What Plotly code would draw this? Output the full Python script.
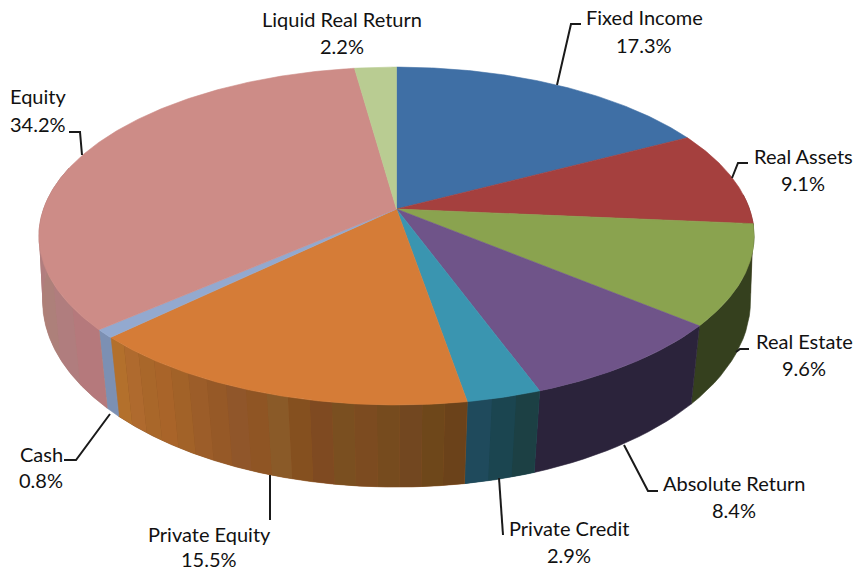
import numpy as np
import plotly.graph_objects as go

categories = ["Fixed Income", "Real Assets", "Real Estate", "Absolute Return", "Private Credit",
              "Private Equity", "Cash", "Equity", "Liquid Real Return"]
shares = [17.3, 9.1, 9.6, 8.4, 2.9, 15.5, 0.8, 34.2, 2.2]
top_colors = ["#3f6fa5", "#a5403e", "#8aa34f", "#6f5489", "#3a95b0", "#d57c37", "#93a9cf", "#cd8c87", "#b9cc92"]
# side wall colours, listed clockwise round the pie (right to left along the front)
side_bands = [
    ["#2b4a70"], ["#6e2b29"], ["#35401e"], ["#2b233b"],
    ["#1c4044", "#1b4550", "#1f4a5c"],
    ["#6b421a", "#6e471a", "#724720", "#764b1e", "#7c4b20", "#7a4f20", "#7f4a21", "#85501f", "#8a5a28",
     "#8f5524", "#90562a", "#965927", "#9c5d29", "#a26228", "#a96429", "#a9672a", "#af6a2e", "#b3702c"],
    ["#7c90b3"],
    ["#b5797c", "#b07d7e", "#ad807a", "#ae8078", "#b17d7e", "#b47f80", "#b58485"],
    ["#9dad7c"],
]
label_lines = {
    "Liquid Real Return": (342, 19, 46), "Fixed Income": (644, 17, 45), "Real Assets": (803, 156, 183),
    "Real Estate": (804, 341, 368), "Absolute Return": (734, 483, 510), "Private Credit": (569, 528, 555),
    "Private Equity": (209, 534, 559), "Cash": (41, 454, 480), "Equity": (38, 96, 124),
}
leaders = [
    [(557, 85), (571, 24), (581, 24)], [(732, 178), (738, 163), (748, 163)],
    [(736, 352), (740, 349), (749, 349)], [(624, 445), (648, 491), (658, 491)],
    [(499, 478), (503, 535)], [(270, 475), (270, 520)],
    [(110, 414), (76, 460), (64, 460)], [(82, 155), (80, 132), (69, 132)],
]

CX, CY = 396.5, 209.0


def project(theta_deg, a, b, k, c):
    t = np.radians(theta_deg)
    u, v = np.sin(t), -np.cos(t)
    d = 1 - k * v
    return CX + a * u / d, CY + c + b * v / d


def top_rim(t):
    return project(t, 353.0, 164.6, 0.16, 0.0)


def bottom_rim(t):
    return project(t, 351.0, 183.0, 0.129, 68.0)


def poly(x, y, color, name, outline=0.6):
    return go.Scatter(x=list(x), y=list(y), mode="lines", fill="toself", fillcolor=color,
                      line=dict(color=color, width=outline), name=name, hoverinfo="name", showlegend=False)


def wall(t0, t1):
    ts = np.linspace(t0, t1, 16)
    xt, yt = top_rim(ts)
    xb, yb = bottom_rim(ts[::-1])
    return np.r_[xt, xb, xt[0]], np.r_[yt, yb, yt[0]]


fig = go.Figure()
edges = np.cumsum([0.0] + shares) / sum(shares) * 360.0

# side wall, clipped to the part that can face the viewer
for i, name in enumerate(categories):
    lo, hi = max(edges[i], 85.0), min(edges[i + 1], 285.0)
    if hi <= lo:
        continue
    bands = side_bands[i]
    # a base wall in the middle band colour hides the hairlines between bands
    x, y = wall(lo, hi)
    fig.add_trace(poly(x, y, bands[len(bands) // 2], name))
    if len(bands) > 1:
        cuts = np.linspace(lo, hi, len(bands) + 1)
        for j, col in enumerate(bands):
            x, y = wall(cuts[j], cuts[j + 1])
            fig.add_trace(poly(x, y, col, name, outline=0))

# top surface
for i, name in enumerate(categories):
    ts = np.linspace(edges[i], edges[i + 1], max(4, int((edges[i + 1] - edges[i]) * 2)))
    xt, yt = top_rim(ts)
    fig.add_trace(poly(np.r_[CX, xt, CX], np.r_[CY, yt, CY], top_colors[i], name))

annotations = []
for name, val in zip(categories, shares):
    x, y1, y2 = label_lines[name]
    for txt, y in ((name, y1), (f"{val:.1f}%", y2)):
        annotations.append(dict(x=x, y=y, xref="x", yref="y", text=txt, showarrow=False, xanchor="center",
                                yanchor="middle", font=dict(family="Lato", size=20, color="#111111")))

shapes = []
for pts in leaders:
    path = "M " + " L ".join(f"{x},{y}" for x, y in pts)
    shapes.append(dict(type="path", path=path, xref="x", yref="y", line=dict(color="#1a1a1a", width=2)))

fig.update_layout(
    width=856, height=571, autosize=False, margin=dict(l=0, r=0, t=0, b=0),
    paper_bgcolor="white", plot_bgcolor="white", showlegend=False,
    xaxis=dict(range=[0, 856], visible=False, fixedrange=True),
    yaxis=dict(range=[571, 0], visible=False, fixedrange=True),
    annotations=annotations, shapes=shapes,
)
fig.write_html("out.html", config=dict(displayModeBar=False),
               post_script="document.body.style.margin='0';document.body.style.overflow='hidden';")
